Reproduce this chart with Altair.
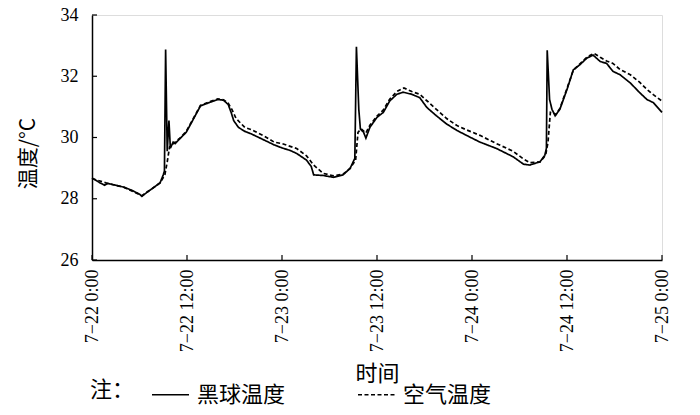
import altair as alt
import pandas as pd

# ---- data (hours since 7-22 0:00, °C) ----
globe_h = [0, 1, 1.6, 2, 3, 4, 5, 6, 6.3, 7, 7.7, 8.6, 9.0, 9.15, 9.3, 9.5, 9.72, 9.9, 10.25, 10.5,
           11.1, 11.9, 12.7, 13.7, 14.9, 15.9, 16.6, 17.2, 17.6, 17.9, 18.5, 19.3, 20.1, 21.0, 21.8,
           23.0, 24.0, 25.0, 25.85, 27.1, 27.7, 28.0, 29.2, 30.5, 31.7, 32.6, 33.2, 33.4, 33.7, 33.9,
           34.3, 34.6, 35.1, 36.0, 36.8, 37.6, 38.5, 39.3, 40.4, 41.4, 42.3, 43.5, 44.8, 46.1, 47.3,
           49.0, 51.1, 53.2, 54.5, 55.3, 56.6, 57.2, 57.4, 57.5, 57.8, 58.1, 58.5, 59.1, 60.0, 60.8,
           61.6, 62.5, 63.3, 64.2, 65.0, 65.8, 66.7, 68.0, 69.2, 70.1, 70.9, 72.0]
globe_t = [28.68, 28.52, 28.44, 28.50, 28.44, 28.38, 28.28, 28.15, 28.08, 28.22, 28.35, 28.52, 28.78, 28.9,
           32.87, 29.55, 30.55, 29.65, 29.85, 29.80, 29.96, 30.17, 30.55, 31.03, 31.15, 31.24, 31.22,
           31.08, 30.80, 30.55, 30.33, 30.20, 30.12, 30.01, 29.91, 29.76, 29.66, 29.58, 29.48, 29.26,
           29.05, 28.78, 28.76, 28.70, 28.78, 28.99, 29.32, 32.96, 30.92, 30.28, 30.17, 29.98, 30.33,
           30.66, 30.82, 31.19, 31.41, 31.48, 31.41, 31.30, 30.98, 30.71, 30.44, 30.23, 30.07, 29.85,
           29.64, 29.37, 29.13, 29.10, 29.21, 29.42, 29.65, 32.85, 31.24, 30.92, 30.71, 30.92, 31.57,
           32.21, 32.37, 32.59, 32.69, 32.48, 32.42, 32.16, 32.05, 31.78, 31.46, 31.24, 31.14, 30.82]

air_h = [0, 2, 4, 6.3, 7.7, 8.6, 9.2, 9.5, 9.8, 10.5, 11.1, 11.9, 12.7, 13.7, 14.9, 15.9, 16.6, 17.2,
         17.7, 18.2, 19.3, 20.1, 21.8, 23.0, 24.0, 25.85, 27.1, 28.0, 29.2, 30.5, 31.7, 32.6, 33.3,
         33.6, 34.0, 34.6, 35.1, 36.0, 36.8, 37.6, 38.5, 39.4, 40.4, 41.4, 42.3, 43.5, 44.8, 46.1,
         47.3, 49.0, 51.1, 53.2, 54.5, 55.3, 56.6, 57.3, 57.6, 57.9, 58.3, 58.6, 59.1, 60.0, 60.8,
         61.6, 62.5, 63.4, 64.2, 65.0, 65.8, 66.7, 68.0, 69.2, 70.1, 70.9, 72.0]
air_t = [28.66, 28.50, 28.38, 28.10, 28.35, 28.52, 28.78, 29.20, 29.69, 29.85, 29.98, 30.20, 30.57,
         31.05, 31.17, 31.26, 31.23, 31.12, 30.90, 30.62, 30.33, 30.26, 30.04, 29.85, 29.80, 29.64,
         29.40, 29.10, 28.83, 28.75, 28.80, 28.99, 29.26, 30.17, 30.28, 30.15, 30.40, 30.70, 30.90,
         31.25, 31.50, 31.62, 31.50, 31.41, 31.20, 30.92, 30.62, 30.39, 30.25, 30.07, 29.80, 29.55,
         29.30, 29.18, 29.20, 29.42, 29.85, 30.82, 30.80, 30.75, 30.95, 31.60, 32.20, 32.40, 32.62,
         32.75, 32.62, 32.50, 32.42, 32.22, 32.05, 31.80, 31.57, 31.40, 31.19]

series_names = ["黑球温度", "空气温度"]
x_tick_hours = [0, 12, 24, 36, 48, 60, 72]
x_tick_labels = ["7−22 0:00", "7−22 12:00", "7−23 0:00", "7−23 12:00",
                 "7−24 0:00", "7−24 12:00", "7−25 0:00"]
y_ticks = [26, 28, 30, 32, 34]

df = pd.concat([
    pd.DataFrame({"h": globe_h, "t": globe_t, "s": series_names[0], "o": range(len(globe_h))}),
    pd.DataFrame({"h": air_h, "t": air_t, "s": series_names[1], "o": range(len(air_h))}),
])

label_expr = "[" + ",".join("'%s'" % s for s in x_tick_labels) + "][round(datum.value/12)]"

x_scale = alt.Scale(domain=[0, 72], nice=False, zero=False)
y_scale = alt.Scale(domain=[26, 34], nice=False, zero=False)

W, H = 570, 245

lines = alt.Chart(df).mark_line(color="black", strokeWidth=1.7).encode(
    x=alt.X("h:Q", scale=x_scale,
            axis=alt.Axis(values=x_tick_hours, labelExpr=label_expr, labelAngle=270,
                          ticks=False, tickSize=0, labelPadding=9, grid=False,
                          labelFont="Liberation Serif", labelFontSize=18, labelColor="black",
                          domainColor="black", domainWidth=1.5,
                          title="时间", titleFont="Noto Sans CJK SC", titleFontSize=22,
                          titleFontWeight="normal", titleColor="black", titleY=103,
                          titleBaseline="top", labelOverlap=False, labelFlush=False)),
    y=alt.Y("t:Q", scale=y_scale,
            axis=alt.Axis(values=y_ticks, ticks=False, tickSize=0, labelPadding=14, grid=False,
                          labelFont="Liberation Serif", labelFontSize=18, labelColor="black",
                          domainColor="black", domainWidth=1.5,
                          title="温度/°C", titleFont="Noto Sans CJK SC", titleFontSize=21,
                          titleFontWeight="normal", titleColor="black",
                          titleX=-54, titleY=138, titleAngle=270, titleBaseline="bottom")),
    strokeDash=alt.StrokeDash("s:N", scale=alt.Scale(domain=series_names, range=[[1, 0], [4, 2.5]]),
                              legend=alt.Legend(orient="none", legendX=-2, legendY=360,
                                                direction="horizontal", title="注：",
                                                titleOrient="left", titleFont="Noto Sans CJK SC",
                                                titleFontSize=22, titleFontWeight="normal",
                                                titleColor="black", titlePadding=16,
                                                titleBaseline="middle", titleAnchor="middle",
                                                symbolType="stroke", symbolSize=1369,
                                                symbolStrokeWidth=1.6, symbolStrokeColor="black",
                                                labelFont="Noto Sans CJK SC", labelFontSize=22,
                                                labelColor="black", labelOffset=7,
                                                columnPadding=68, padding=0)),
    order="o:Q",
)

ytick_df = pd.DataFrame({"v": y_ticks})
xtick_df = pd.DataFrame({"v": x_tick_hours})

y_ticks_layer = alt.Chart(ytick_df).mark_rule(color="black", strokeWidth=1.2).encode(
    y=alt.Y("v:Q", scale=y_scale), x=alt.value(0), x2=alt.value(5))
x_ticks_layer = alt.Chart(xtick_df).mark_rule(color="black", strokeWidth=1.2).encode(
    x=alt.X("v:Q", scale=x_scale), y=alt.value(H), y2=alt.value(H - 5))

chart = alt.layer(lines, y_ticks_layer, x_ticks_layer).properties(
    width=W, height=H,
    padding={"left": 84, "top": 7, "right": 30, "bottom": 147},
    autosize=alt.AutoSizeParams(type="none"),
).configure_view(stroke=None).configure(background="white")

chart.save("out.html", embed_options={"renderer": "svg", "actions": False})
